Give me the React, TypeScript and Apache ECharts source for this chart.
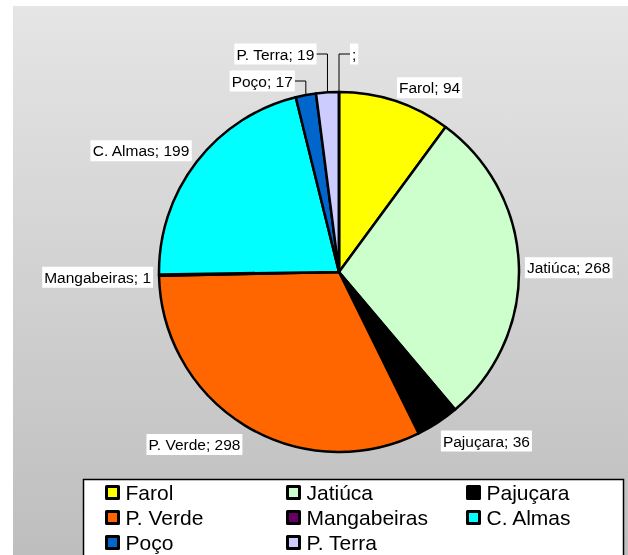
import React, { useEffect, useRef } from 'react';
import * as echarts from 'echarts';

// ---- data ----
const categories = ['Farol', 'Jatiúca', 'Pajuçara', 'P. Verde', 'Mangabeiras', 'C. Almas', 'Poço', 'P. Terra', ''];
const values = [94, 268, 36, 298, 1, 199, 17, 19, 0];
const colors = ['#FFFF00', '#CCFFCC', '#000000', '#FF6600', '#660066', '#00FFFF', '#0066CC', '#CCCCFF', '#FFFFFF'];
const legendColumns = [
  ['Farol', 'P. Verde', 'Poço'],
  ['Jatiúca', 'Mangabeiras', 'P. Terra'],
  ['Pajuçara', 'C. Almas'],
];

// ---- layout / style ----
const CX = 339;
const CY = 272;
const R = 180;
const FONT = "'Liberation Sans', Arial, Helvetica, sans-serif";
const leaderRise: Record<string, number> = { 'Poço': 11, 'P. Terra': 38, '': 38 };
const ELBOW = 11;
const LEGEND_LEFTS = [105, 286, 466];

export default function App() {
  const ref = useRef<HTMLDivElement>(null);

  useEffect(() => {
    if (!ref.current) return;
    const chart = echarts.init(ref.current, undefined, { renderer: 'svg' });

    const total = values.reduce((a, b) => a + b, 0);
    const mids: number[] = [];
    let acc = 0;
    values.forEach((v) => {
      mids.push(((acc + v / 2) / total) * Math.PI * 2);
      acc += v;
    });

    const data = categories.map((name, i) => {
      const item: any = {
        name,
        value: values[i],
        itemStyle: { color: colors[i] },
      };
      if (name in leaderRise) item.labelLine = { show: true };
      return item;
    });

    const option: any = {
      animation: false,
      graphic: [
        {
          type: 'rect',
          z: -10,
          shape: { x: 13, y: 6, width: 615, height: 549 },
          style: {
            fill: new echarts.graphic.LinearGradient(0, 0, 0, 1, [
              { offset: 0, color: '#e5e5e5' },
              { offset: 1, color: '#bebebe' },
            ]),
          },
          silent: true,
        },
        {
          type: 'rect',
          z: 1,
          shape: { x: 83.5, y: 479.5, width: 540, height: 100 },
          style: { fill: '#ffffff', stroke: '#000000', lineWidth: 1.5 },
          silent: true,
        },
      ],
      legend: legendColumns.map((col, k) => ({
        orient: 'vertical',
        left: LEGEND_LEFTS[k],
        top: 482,
        padding: 0,
        itemGap: 4,
        itemWidth: 12,
        itemHeight: 12,
        icon: 'rect',
        selectedMode: false,
        data: col,
        itemStyle: { borderColor: '#000', borderWidth: 3 },
        textStyle: {
          fontFamily: FONT,
          fontSize: 21,
          lineHeight: 21,
          color: '#000',
          padding: [0, 0, 0, 2],
        },
      })),
      series: [
        {
          type: 'pie',
          center: [CX, CY],
          radius: R,
          startAngle: 90,
          clockwise: true,
          avoidLabelOverlap: false,
          data,
          itemStyle: { borderColor: '#000', borderWidth: 2.5 },
          emphasis: { disabled: true },
          label: {
            show: true,
            position: 'outside',
            formatter: (p: any) => (p.name ? `${p.name}; ${p.value}` : ';'),
            fontFamily: FONT,
            fontSize: 15.5,
            color: '#000',
            backgroundColor: '#ffffff',
            padding: [3, 2, 2, 2],
          },
          labelLine: {
            show: false,
            lineStyle: { color: '#000', width: 1 },
          },
          labelLayout: (params: any) => {
            const i = params.dataIndex;
            const th = mids[i];
            const s = Math.sin(th);
            const c = Math.cos(th);
            const w = params.labelRect.width;
            const h = params.labelRect.height;
            const name = categories[i];
            if (name in leaderRise) {
              const ax = CX + R * s;
              const ay = CY - R * c;
              const ly = CY - R - leaderRise[name];
              const dir = s < -1e-6 ? -1 : 1;
              const ex = ax + dir * ELBOW;
              return {
                x: ex + (dir * w) / 2,
                y: ly,
                align: 'center',
                verticalAlign: 'middle',
                labelLinePoints: [
                  [ax, ay],
                  [ax, ly],
                  [ex, ly],
                ],
              };
            }
            const g = 6;
            const px = CX + (R + g) * s;
            const py = CY - (R + g) * c;
            const hx = s >= 0 ? 1 : -1;
            const vy = Math.abs(c) < 0.1 ? 0 : c > 0 ? -1 : 1;
            return {
              x: px + (hx * w) / 2,
              y: py + (vy * h) / 2 + (vy !== 0 ? 3 : 0) + (vy === 0 ? 2 : 0),
              align: 'center',
              verticalAlign: 'middle',
            };
          },
        },
      ],
    };

    chart.setOption(option);
    return () => chart.dispose();
  }, []);

  return (
    <div
      ref={ref}
      style={{ position: 'fixed', left: 0, top: 0, width: 628, height: 555 }}
    />
  );
}
